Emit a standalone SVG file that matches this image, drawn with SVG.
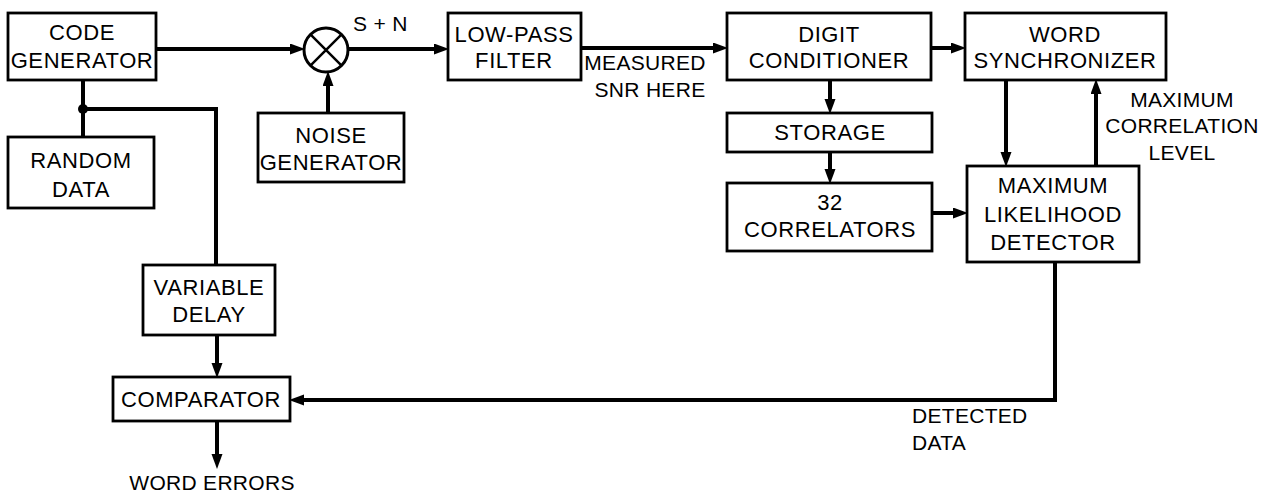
<svg xmlns="http://www.w3.org/2000/svg" width="1267" height="493" viewBox="0 0 1267 493">
<style>
.box{fill:#fff;stroke:#000;stroke-width:2.8}
.t{font-family:"Liberation Sans",Arial,sans-serif;font-size:22px;letter-spacing:0.6px;fill:#000;text-anchor:middle}
.l{font-family:"Liberation Sans",Arial,sans-serif;font-size:21px;letter-spacing:0.3px;fill:#000}
.c{fill:none;stroke:#000;stroke-width:4}
</style>
<defs>
<marker id="ah" markerUnits="userSpaceOnUse" markerWidth="18" markerHeight="12" refX="4" refY="5.5" orient="auto">
<path d="M0,0 L15,5.5 L0,11 z" fill="#000"/>
</marker>
</defs>
<rect width="1267" height="493" fill="#fff"/>
<g id="connectors">
<path class="c" d="M156,49 H294" marker-end="url(#ah)"/>
<path class="c" d="M348,49 H438" marker-end="url(#ah)"/>
<path class="c" d="M328,113 V82" marker-end="url(#ah)"/>
<path class="c" d="M581,48 H717" marker-end="url(#ah)"/>
<path class="c" d="M931,48 H955" marker-end="url(#ah)"/>
<path class="c" d="M830,80 V103" marker-end="url(#ah)"/>
<path class="c" d="M830,152 V173" marker-end="url(#ah)"/>
<path class="c" d="M932,213 H957" marker-end="url(#ah)"/>
<path class="c" d="M1006,80 V156" marker-end="url(#ah)"/>
<path class="c" d="M1096,166 V90" marker-end="url(#ah)"/>
<path class="c" d="M83,80 V137"/>
<path class="c" d="M83,109 H216 V265"/>
<circle cx="83" cy="109" r="5" fill="#000"/>
<path class="c" d="M217,335 V367" marker-end="url(#ah)"/>
<path class="c" d="M217,421 V458" marker-end="url(#ah)"/>
<path class="c" d="M1055,262 V400 H300" marker-end="url(#ah)"/>
</g>
<g id="summer">
<circle cx="326" cy="50" r="22" fill="#fff" stroke="#000" stroke-width="3"/>
<path d="M310.4,34.4 L341.6,65.6 M341.6,34.4 L310.4,65.6" stroke="#000" stroke-width="2.5"/>
</g>
<g id="code_generator">
<rect class="box" x="8" y="13" width="148" height="67"/>
<text class="t" x="82" y="40">CODE</text>
<text class="t" x="82" y="68">GENERATOR</text>
</g>
<g id="random_data">
<rect class="box" x="8" y="137" width="146" height="71"/>
<text class="t" x="81" y="168">RANDOM</text>
<text class="t" x="81" y="197">DATA</text>
</g>
<g id="noise_generator">
<rect class="box" x="258" y="113" width="146" height="69"/>
<text class="t" x="331" y="143">NOISE</text>
<text class="t" x="331" y="170">GENERATOR</text>
</g>
<g id="low_pass_filter">
<rect class="box" x="448" y="13" width="133" height="67"/>
<text class="t" x="514" y="42">LOW-PASS</text>
<text class="t" x="514" y="68">FILTER</text>
</g>
<g id="digit_conditioner">
<rect class="box" x="727" y="13" width="204" height="67"/>
<text class="t" x="829" y="42">DIGIT</text>
<text class="t" x="829" y="68">CONDITIONER</text>
</g>
<g id="word_synchronizer">
<rect class="box" x="965" y="13" width="201" height="67"/>
<text class="t" x="1065" y="42">WORD</text>
<text class="t" x="1065" y="68">SYNCHRONIZER</text>
</g>
<g id="storage">
<rect class="box" x="727" y="113" width="205" height="39"/>
<text class="t" x="830" y="140">STORAGE</text>
</g>
<g id="correlators">
<rect class="box" x="727" y="183" width="205" height="68"/>
<text class="t" x="830" y="210">32</text>
<text class="t" x="830" y="237">CORRELATORS</text>
</g>
<g id="ml_detector">
<rect class="box" x="967" y="166" width="172" height="96"/>
<text class="t" x="1053" y="193">MAXIMUM</text>
<text class="t" x="1053" y="222">LIKELIHOOD</text>
<text class="t" x="1053" y="250">DETECTOR</text>
</g>
<g id="variable_delay">
<rect class="box" x="143" y="265" width="132" height="70"/>
<text class="t" x="209" y="295">VARIABLE</text>
<text class="t" x="209" y="322">DELAY</text>
</g>
<g id="comparator">
<rect class="box" x="113" y="377" width="177" height="44"/>
<text class="t" x="201" y="407">COMPARATOR</text>
</g>
<g id="labels">
<text class="l" x="353" y="31">S + N</text>
<text class="l" x="645" y="70" text-anchor="middle">MEASURED</text>
<text class="l" x="650" y="97" text-anchor="middle">SNR HERE</text>
<text class="l" x="1182" y="107" text-anchor="middle">MAXIMUM</text>
<text class="l" x="1182" y="133" text-anchor="middle">CORRELATION</text>
<text class="l" x="1182" y="160" text-anchor="middle">LEVEL</text>
<text class="l" x="912" y="423">DETECTED</text>
<text class="l" x="912" y="450">DATA</text>
<text class="l" x="212" y="490" text-anchor="middle">WORD ERRORS</text>
</g>
</svg>
